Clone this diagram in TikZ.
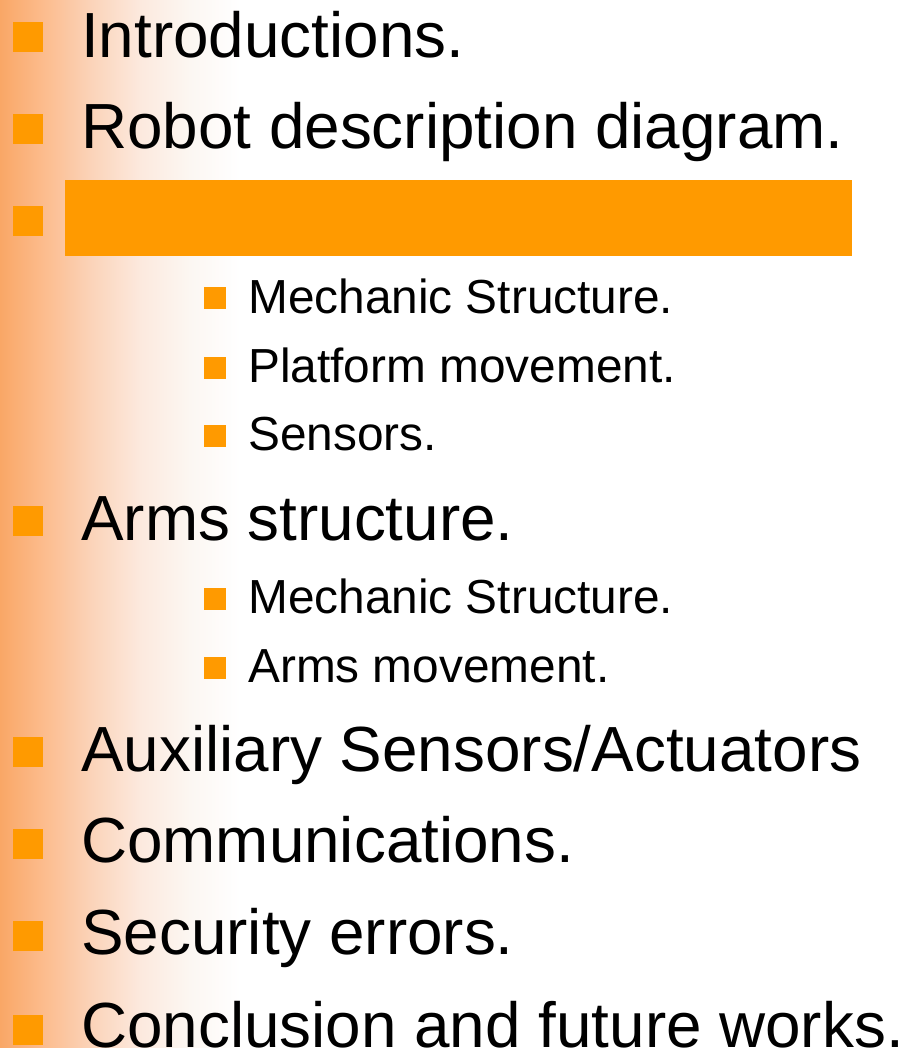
\documentclass[tikz,border=0pt]{standalone}
\usepackage{fontspec}
\setmainfont{Liberation Sans}
\usepackage{tikz}
\usetikzlibrary{positioning}

\definecolor{bulletorange}{HTML}{FF9A00}
\definecolor{fade0}{HTML}{F9A766}
\definecolor{fade1}{HTML}{FCBA8A}
\definecolor{fade2}{HTML}{FBD3B8}
\definecolor{fade3}{HTML}{FCE9DE}
\definecolor{fade4}{HTML}{FCF7F2}

\begin{document}
\begin{tikzpicture}[x=1bp,y=-1bp,
  bigitem/.style={anchor=base west,inner sep=0pt,font=\fontsize{63.8bp}{68bp}\selectfont},
  smallitem/.style={anchor=base west,inner sep=0pt,font=\fontsize{47.8bp}{52bp}\selectfont},
  bigbullet/.style={fill=bulletorange,inner sep=0pt,minimum size=30bp},
  smallbullet/.style={fill=bulletorange,inner sep=0pt,minimum size=22bp}]
  \useasboundingbox (0,0) rectangle (907,1048);
  \clip (0,0) rectangle (907,1048);
%%
  % background with the faded band on the left
  \fill[white] (0,0) rectangle (907,1048);
  \shade[left color=fade0,right color=fade1] (0,0) rectangle (40,1048);
  \shade[left color=fade1,right color=fade2] (40,0) rectangle (90,1048);
  \shade[left color=fade2,right color=fade3] (90,0) rectangle (140,1048);
  \shade[left color=fade3,right color=fade4] (140,0) rectangle (190,1048);
  \shade[left color=fade4,right color=white] (190,0) rectangle (240,1048);
%%
  % Item: 1
  \node[bigbullet] (b1) at (28,37) {};
  \node[bigitem] (t1) at (81,57) {Introductions.};
  % Item: 2
  \node[bigbullet] (b2) at (28,129) {};
  \node[bigitem] (t2) at (81,148) {Robot description diagram.};
  % Item: 3 (highlighted bar)
  \node[bigbullet] (b3) at (28,221) {};
  \node[fill=bulletorange,inner sep=0pt,minimum width=787bp,minimum height=76bp] (t3) at (458.5,218) {};
  % Sub items of 3
  \node[smallbullet] (b31) at (215,298) {};
  \node[smallitem] (t31) at (248,313) {Mechanic Structure.};
  \node[smallbullet] (b32) at (215,368) {};
  \node[smallitem] (t32) at (248,382) {Platform movement.};
  \node[smallbullet] (b33) at (215,436) {};
  \node[smallitem] (t33) at (248,450) {Sensors.};
  % Item: 4
  \node[bigbullet] (b4) at (28,521) {};
  \node[bigitem] (t4) at (81,540) {Arms structure.};
  % Sub items of 4
  \node[smallbullet] (b41) at (215,599) {};
  \node[smallitem] (t41) at (248,613) {Mechanic Structure.};
  \node[smallbullet] (b42) at (215,668) {};
  \node[smallitem] (t42) at (248,682) {Arms movement.};
  % Item: 5
  \node[bigbullet] (b5) at (28,752) {};
  \node[bigitem] (t5) at (81,771) {Auxiliary Sensors/Actuators};
  % Item: 6
  \node[bigbullet] (b6) at (28,844) {};
  \node[bigitem] (t6) at (81,862) {Communications.};
  % Item: 7
  \node[bigbullet] (b7) at (28,936) {};
  \node[bigitem] (t7) at (81,954) {Security errors.};
  % Item: 8
  \node[bigbullet] (b8) at (28,1030) {};
  \node[bigitem] (t8) at (81,1047) {Conclusion and future works.};
%
\end{tikzpicture}
\end{document}
